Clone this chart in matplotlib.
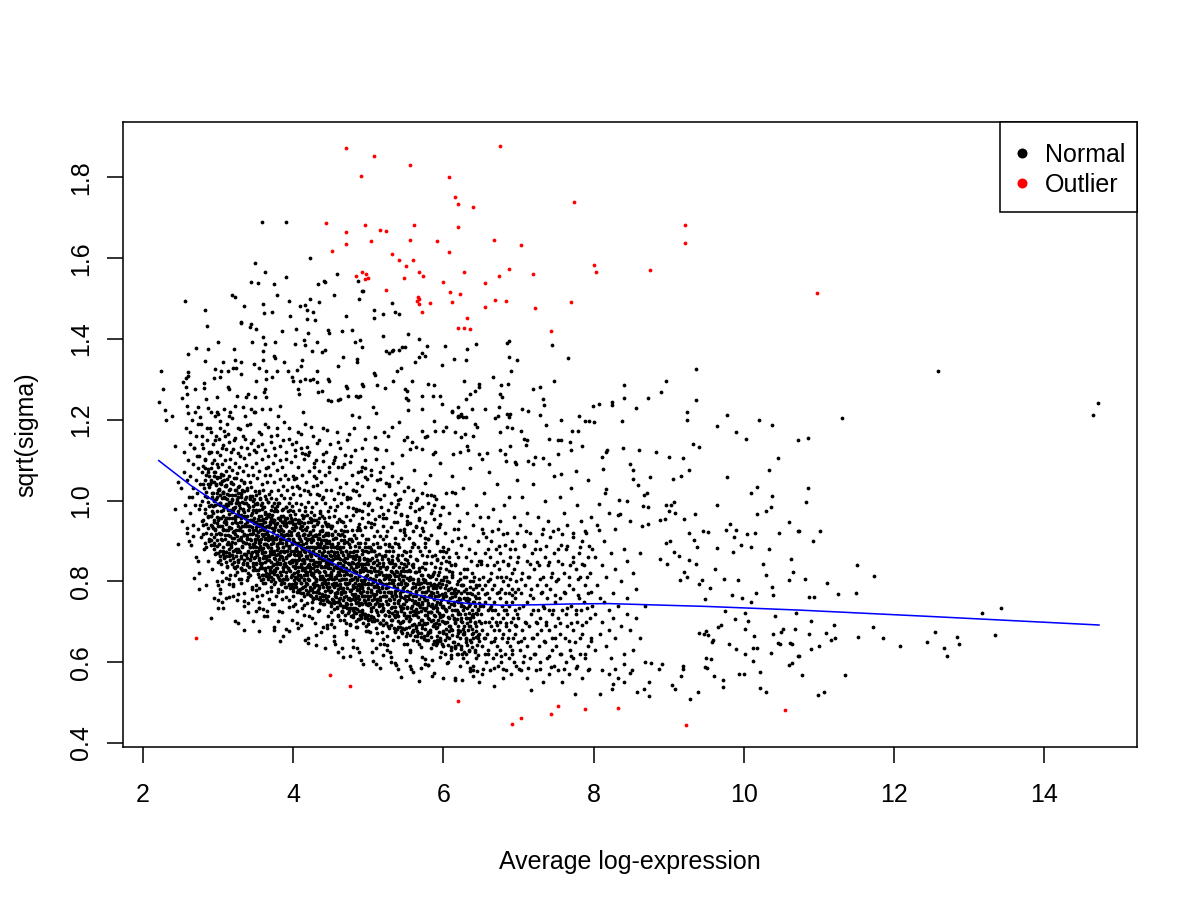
import matplotlib
matplotlib.use("Agg")
import matplotlib.pyplot as plt
from matplotlib.lines import Line2D
from matplotlib.patches import Rectangle

plt.rcParams['font.family'] = ['Liberation Sans', 'DejaVu Sans']

# outlier genes (red)
out_x = [4.70, 6.75, 5.07, 5.56, 4.90, 6.07, 6.16, 6.20, 6.40, 4.44, 4.70, 4.96, 5.15, 5.24, 5.61, 6.20,
         4.70, 5.03, 5.56, 5.92, 6.68, 7.04, 4.52, 5.32, 6.08, 5.41, 5.59, 5.50, 4.91, 4.84, 4.97, 5.00,
         4.95, 5.47, 5.68, 5.73, 6.28, 6.88, 6.74, 7.19, 5.99, 6.56, 5.24, 6.09, 6.22, 5.66, 5.68, 5.65,
         5.68, 5.82, 6.11, 6.55, 6.69, 6.84, 7.22, 5.72, 6.31, 6.20, 6.27, 6.36, 7.43,
         7.74, 9.22, 9.22, 8.01, 8.03, 8.75, 7.70, 10.98,
         2.70, 4.49, 4.76, 6.20, 6.91, 7.03, 7.43, 7.53, 7.88, 8.33, 9.23, 10.55]
out_y = [1.874, 1.877, 1.852, 1.832, 1.803, 1.800, 1.752, 1.735, 1.726, 1.687, 1.666, 1.683, 1.671, 1.668, 1.681, 1.678,
         1.635, 1.642, 1.644, 1.642, 1.646, 1.633, 1.619, 1.610, 1.616, 1.595, 1.596, 1.581, 1.565, 1.557, 1.561, 1.552,
         1.548, 1.552, 1.566, 1.557, 1.566, 1.574, 1.557, 1.562, 1.540, 1.539, 1.521, 1.517, 1.512, 1.505, 1.498, 1.495,
         1.487, 1.490, 1.492, 1.479, 1.497, 1.495, 1.476, 1.467, 1.452, 1.428, 1.428, 1.425, 1.420,
         1.740, 1.681, 1.638, 1.584, 1.566, 1.570, 1.492, 1.514,
         0.661, 0.569, 0.541, 0.504, 0.447, 0.462, 0.472, 0.492, 0.484, 0.487, 0.445, 0.482]

# lowess trend (blue)
trend_x = [2.21, 2.64, 3.00, 3.40, 3.80, 4.24, 4.69, 5.13, 5.44, 5.89, 6.33, 6.78, 7.22, 7.67, 8.20, 9.50, 10.73, 12.50, 14.73]
trend_y = [1.099, 1.037, 0.992, 0.950, 0.913, 0.872, 0.830, 0.795, 0.777, 0.756, 0.745, 0.741, 0.742, 0.744, 0.745, 0.738, 0.729, 0.713, 0.692]

# sparse upper cloud, one pair per gene
top_pts = [(2.56,1.495),(2.82,1.472),(3.18,1.510),(3.22,1.504),(3.34,1.481),(3.44,1.541),(3.53,1.538),(3.75,1.537),
    (3.78,1.508),(3.60,1.486),(3.61,1.464),(3.72,1.468),(3.31,1.443),(3.30,1.439),(3.44,1.437),(3.43,1.429),(2.85,1.431),
    (3.50,1.424),(3.60,1.406),(3.63,1.388),(3.76,1.393),(3.45,1.393),(3.00,1.393),(2.70,1.378),(2.87,1.375),(3.21,1.376),
    (3.60,1.370),(2.60,1.362),(2.82,1.346),(3.07,1.343),(3.22,1.348),(3.31,1.343),(3.48,1.339),(3.60,1.348),(3.74,1.357),
    (3.76,1.353),(3.88,1.343),(2.24,1.322),(2.60,1.319),(2.96,1.326),(3.04,1.322),(3.13,1.321),(3.20,1.328),(3.24,1.329),
    (3.31,1.314),(3.55,1.328),(3.64,1.322),(3.78,1.320),(3.72,1.306),(2.53,1.293),(2.57,1.303),(2.60,1.308),(2.81,1.292),
    (2.95,1.304),(3.03,1.305),(2.26,1.276),(2.21,1.244),(2.29,1.224),(2.39,1.210),(2.31,1.200),(2.57,1.281),(2.69,1.277),
    (2.81,1.279),(2.52,1.253),(2.58,1.264),(2.84,1.252),(2.98,1.256),(3.14,1.276),(3.13,1.282),(3.25,1.260),(3.37,1.256),
    (3.40,1.264),(3.49,1.256),(3.62,1.276),(3.61,1.268),(3.64,1.256),(3.51,1.297),(3.64,1.300),(2.58,1.234),(2.60,1.217),
    (2.73,1.231),(2.76,1.208),(2.86,1.229),(2.91,1.219),(3.00,1.215),(3.08,1.227),(3.16,1.220),(3.22,1.233),(3.33,1.231),
    (3.36,1.210),(3.44,1.227),(3.49,1.220),(3.58,1.227),(3.69,1.227),(3.82,1.235),
    (3.96,1.458),(3.94,1.495),(4.09,1.482),(4.16,1.485),(4.22,1.500),(4.33,1.537),(4.34,1.492),(4.42,1.541),(4.19,1.471),
    (4.26,1.467),(4.19,1.449),(4.29,1.447),(4.20,1.416),(4.46,1.423),(4.48,1.414),(4.04,1.425),(3.85,1.419),(4.54,1.509),
    (4.86,1.543),(4.88,1.500),(4.93,1.519),(4.71,1.457),(5.07,1.453),(5.07,1.471),(5.20,1.461),(5.36,1.467),(5.41,1.462),
    (5.31,1.489),(4.78,1.423),(4.65,1.421),(4.14,1.398),(4.03,1.388),(4.16,1.384),(4.32,1.393),(4.38,1.369),(4.42,1.374),
    (4.25,1.370),(4.82,1.393),(4.89,1.398),(4.92,1.381),(5.19,1.408),(5.53,1.413),(5.67,1.400),(5.78,1.382),(5.49,1.380),
    (5.24,1.370),(5.28,1.366),(5.33,1.373),(5.72,1.366),(6.02,1.382),(6.32,1.376),(6.43,1.388),(6.87,1.395),(6.85,1.391),
    (7.45,1.386),(7.66,1.352),(6.98,1.348),(6.87,1.356),(6.30,1.348),(6.14,1.350),(5.98,1.335),(6.90,1.322),(6.66,1.306),
    (6.28,1.295),(6.48,1.289),(6.77,1.287),(6.86,1.289),(7.20,1.277),(7.29,1.281),(7.47,1.295),(7.32,1.252),(7.34,1.237),
    (7.05,1.226),(7.13,1.221),(7.28,1.212),(7.36,1.188),(7.56,1.200),(7.80,1.210),(7.88,1.198),(7.94,1.198),(8.00,1.194),
    (7.99,1.233),(7.71,1.173),(7.79,1.172),(7.56,1.150),(7.68,1.144),(7.84,1.134),(7.40,1.153),(7.53,1.149),(7.12,1.150),
    (7.10,1.138),(7.07,1.153),(6.89,1.134),(6.76,1.169),(6.85,1.182),(6.92,1.180),(6.87,1.206),(6.85,1.215),(6.73,1.210),
    (6.74,1.231),(6.56,1.227),(6.38,1.227),(6.20,1.231),(6.24,1.215),(6.12,1.221),(6.36,1.264),(6.30,1.252),(6.42,1.272),
    (6.48,1.282),(6.78,1.256),(6.76,1.264),(6.42,1.190),(6.45,1.183),(6.69,1.204),(6.89,1.215),(7.04,1.173),(7.22,1.107),
    (7.32,1.106),(7.40,1.091),(7.52,1.115),(7.70,1.124),(7.77,1.074),(7.56,1.066),(7.13,1.099),(7.20,1.091),(6.97,1.091),
    (6.95,1.095),(6.84,1.099),(6.82,1.115),(6.76,1.124),(6.58,1.118),(6.47,1.115),(6.51,1.103),(6.31,1.134),(6.33,1.125),
    (6.22,1.120),(6.13,1.115),(5.86,1.115),(5.89,1.120),(6.15,1.169),(6.24,1.157),(6.29,1.165),(6.40,1.161),(6.19,1.208),
    (6.22,1.210),(6.30,1.206),(6.00,1.173),(6.03,1.183),(5.87,1.198),(5.89,1.173),(5.71,1.173),(5.76,1.157),(5.78,1.161),
    (5.64,1.132),(5.71,1.128),(5.55,1.128),(5.47,1.149),(5.58,1.144),(5.51,1.157),(5.41,1.194),(5.31,1.182),(5.26,1.161),
    (5.21,1.169),(5.09,1.157),(5.11,1.128),(5.09,1.129),(5.00,1.182),(5.10,1.218),(5.06,1.231),(4.87,1.208),(4.78,1.213),
    (4.84,1.260),(4.86,1.256),(4.89,1.260),(4.93,1.283),(4.92,1.289),(4.73,1.260),(4.70,1.283),(4.72,1.279),(4.62,1.252),
    (4.60,1.248),(4.51,1.246),(4.47,1.248),(4.33,1.268),(4.38,1.272),(4.32,1.293),(4.27,1.300),(4.22,1.299),(4.16,1.300),
    (4.09,1.296),(4.00,1.297),(4.07,1.276),(4.08,1.264),(3.98,1.307),(3.93,1.322),(4.05,1.324),(4.10,1.334),(4.12,1.347),
    (4.32,1.322),(4.46,1.300),(4.48,1.297),(4.60,1.334),(4.67,1.355),(4.85,1.344),(4.85,1.350),(5.07,1.315),(5.09,1.312),
    (5.12,1.287),(5.22,1.279),(5.33,1.297),(5.38,1.322),(5.44,1.329),(5.49,1.276),(5.51,1.272),(5.50,1.254),(5.53,1.248),
    (5.53,1.224),(5.58,1.297),(5.72,1.227),(5.72,1.260),(5.80,1.289),(5.87,1.285),(5.86,1.260),(5.96,1.258),(6.11,1.219),
    (6.19,1.209),(6.26,1.206),(5.98,1.239),(5.62,1.343),(5.67,1.355),(5.76,1.357),(5.41,1.372),(5.45,1.380),(5.31,1.370),
    (3.59,1.690),(3.90,1.689),(4.22,1.601),(3.49,1.588),(3.62,1.567),(4.59,1.562),(3.91,1.553),(4.41,1.543),(4.92,1.520)]

# band just above the dense core and the lower-left edge
upper_pts = [(2.62,1.17),(2.68,1.13),(2.73,1.19),(2.79,1.14),(2.85,1.18),(2.91,1.12),(2.96,1.15),(3.02,1.18),(3.05,1.13),
    (3.09,1.16),(3.12,1.19),(3.17,1.12),(3.21,1.15),(3.26,1.18),(3.29,1.11),(3.33,1.16),(3.38,1.13),(3.42,1.19),(3.46,1.15),
    (3.51,1.12),(3.55,1.17),(3.58,1.14),(3.62,1.19),(3.67,1.11),(3.71,1.16),(3.74,1.13),(3.78,1.18),(3.83,1.10),(3.86,1.15),
    (3.90,1.12),(3.94,1.18),(3.98,1.14),(4.03,1.11),(4.07,1.17),(4.11,1.13),(4.16,1.19),(4.21,1.12),(4.26,1.16),(4.31,1.10),
    (4.35,1.15),(4.40,1.18),(4.44,1.12),(4.49,1.14),(4.54,1.10),(4.58,1.17),(4.63,1.13),(4.68,1.09),(4.72,1.15),(4.77,1.11),
    (4.81,1.18),(4.86,1.07),(4.91,1.13),(4.96,1.10),(3.15,1.21),(3.48,1.22),(3.80,1.21),(4.13,1.22),(2.99,1.22),(3.64,1.08),
    (4.28,1.06),(2.43,1.136),(2.47,1.047),(2.58,0.932),(2.43,0.979),(2.47,0.892),(2.67,0.913),(2.73,0.851),(2.68,0.809),
    (3.00,0.735),(3.22,0.702),(3.27,0.696),(3.35,0.680),(3.54,0.677),(3.82,0.652),(3.27,0.768),(3.02,0.772)]

# right tail, x > 8
tail_pts = [(9.36,1.326),(8.97,1.297),(8.40,1.286),(8.90,1.270),(8.07,1.238),(8.25,1.245),(8.24,1.236),(8.41,1.253),
    (8.72,1.254),(9.36,1.248),(8.57,1.228),(9.25,1.219),(8.38,1.198),(9.25,1.200),(9.78,1.212),(10.20,1.200),(10.38,1.187),
    (9.64,1.185),(9.90,1.170),(10.03,1.152),(10.72,1.149),(9.32,1.140),(9.40,1.133),(8.18,1.126),(8.16,1.120),(8.39,1.130),
    (8.60,1.125),(8.83,1.120),(9.00,1.108),(9.19,1.105),(8.11,1.107),(8.13,1.078),(8.48,1.091),(8.52,1.076),(10.45,1.105),
    (10.34,1.076),(9.27,1.076),(9.16,1.061),(9.06,1.053),(9.78,1.058),(8.75,1.058),(8.52,1.054),(8.59,1.039),(10.18,1.033),
    (8.16,1.029),(8.15,1.018),(8.71,1.020),(8.67,1.014),(10.09,1.018),(10.37,1.011),(8.34,1.002),(8.45,0.999),(8.07,0.992),
    (8.66,0.987),(8.72,0.985),(8.97,0.990),(9.03,0.988),(9.07,0.996),(9.64,0.990),(10.36,0.984),(10.30,0.974),(10.18,0.967),
    (9.00,0.973),(9.09,0.970),(9.35,0.967),(8.32,0.964),(8.35,0.968),(8.88,0.952),(8.95,0.954),(9.20,0.955),(10.60,0.946),
    (8.65,0.938),(8.73,0.941),(9.82,0.943),(9.89,0.928),(9.76,0.926),(9.27,0.920),(9.46,0.925),(9.52,0.923),(10.04,0.918),
    (10.15,0.921),(10.47,0.921),(10.72,0.925),(8.07,0.927),(9.87,0.911),(9.96,0.891),(9.34,0.903),(8.96,0.894),(9.02,0.901),
    (9.38,0.886),(9.65,0.883),(9.86,0.873),(10.09,0.884),(10.34,0.880),(9.14,0.864),(9.07,0.873),(9.27,0.854),(9.37,0.842),
    (8.88,0.855),(8.98,0.842),(10.63,0.855),(10.25,0.843),(10.66,0.823),(10.29,0.815),(10.60,0.804),(9.62,0.830),(9.74,0.805),
    (9.92,0.804),(9.20,0.823),(9.24,0.811),(9.15,0.803),(9.45,0.804),(9.55,0.784),(9.40,0.793),(9.49,0.756),(9.84,0.767),
    (9.98,0.759),(10.10,0.750),(10.16,0.771),(10.38,0.786),(10.39,0.766),(9.75,0.726),(9.88,0.708),(10.01,0.722),(10.05,0.702),
    (10.41,0.714),(10.69,0.721),(9.66,0.688),(9.70,0.693),(10.01,0.681),(10.13,0.664),(10.39,0.670),(10.49,0.675),(10.52,0.683),
    (10.68,0.681),(10.45,0.648),(10.48,0.645),(10.62,0.648),(10.64,0.645),(9.80,0.645),(9.90,0.633),(10.01,0.621),(10.12,0.635),
    (10.18,0.636),(10.36,0.623),(10.72,0.615),(9.59,0.656),(9.58,0.651),(9.47,0.670),(9.50,0.676),(9.53,0.668),(9.41,0.672),
    (9.50,0.611),(9.56,0.608),(9.48,0.588),(9.51,0.585),(9.60,0.566),(9.73,0.555),(9.73,0.539),(9.94,0.570),(10.00,0.570),
    (10.12,0.602),(10.21,0.575),(10.29,0.525),(10.21,0.537),(10.60,0.593),(10.64,0.598),(9.29,0.508),(9.39,0.527),(9.04,0.544),
    (9.09,0.533),(9.19,0.591),(9.19,0.583),(9.16,0.567),(8.91,0.595),(8.87,0.583),(8.76,0.598),(8.67,0.533),(8.58,0.527),
    (8.74,0.550),(8.74,0.516),(8.48,0.574),(8.51,0.580),(8.40,0.596),(8.29,0.584),(8.20,0.571),(8.26,0.547),(8.40,0.551),
    (8.08,0.521),(8.24,0.533),
    (12.59,1.321),(14.72,1.242),(14.65,1.212),(11.31,1.204),(10.86,1.155),(10.85,1.030),(10.83,0.997),(10.73,0.925),
    (11.01,0.925),(10.92,0.900),(11.51,0.840),(11.74,0.813),(10.82,0.807),(11.11,0.796),(10.87,0.761),(10.93,0.761),
    (11.25,0.768),(11.50,0.771),(13.17,0.721),(13.43,0.733),(10.89,0.702),(11.20,0.692),(10.87,0.669),(11.10,0.672),
    (11.21,0.661),(11.16,0.655),(11.52,0.663),(11.72,0.686),(11.86,0.659),(12.08,0.640),(12.44,0.651),(12.54,0.675),
    (12.67,0.636),(12.71,0.615),(12.84,0.662),(12.87,0.645),(13.34,0.667),(10.90,0.633),(11.00,0.640),(10.73,0.615),
    (10.78,0.569),(11.35,0.569),(11.07,0.526),(10.99,0.519)]

# dense core, each row is [x, y, y, ...]
band_a = [[2.51,1.03],[2.52,0.95],[2.54,1.12],[2.55,1.07],[2.56,0.99],[2.57,1.18],[2.58,1.05],[2.59,0.92],[2.60,1.10],
    [2.61,1.01,0.90],[2.62,0.97,1.14],[2.63,1.06],[2.64,0.89],[2.65,1.20,1.01],[2.66,1.03],[2.67,0.94,1.09],[2.68,1.13],
    [2.69,0.99,1.22],[2.70,1.05,0.86],[2.71,1.16],[2.72,1.02,1.11],[2.73,0.93,1.08],[2.74,0.98,0.82],[2.75,1.11,0.78],
    [2.76,1.04,0.99],[2.77,0.91,1.19],[2.78,1.00,1.16],[2.79,1.07,0.95],[2.80,1.13,0.94],[2.81,0.88,1.03],[2.82,0.97,1.08],
    [2.83,1.10,1.05],[2.84,0.92,0.79],[2.85,1.15,1.01],[2.86,0.85,1.04],[2.87,1.07,0.96],[2.88,1.12,0.90,1.06],
    [2.89,1.04,1.18],[2.90,0.99,1.17],[2.91,0.94,1.08,0.71],[2.92,0.83,1.02],[2.93,1.14,0.97],[2.94,1.06,0.89,0.76],
    [2.95,1.10,1.00,0.91],[2.96,0.93,1.21],[2.97,1.04,0.87,1.16],[2.98,1.09,0.96],[2.99,1.12,1.01,0.80]]
band_b = [[3.00,0.953,1.084,0.847],[3.01,1.026,0.892,1.153],[3.02,0.937,1.058,0.781,1.114],[3.03,0.994,0.863,1.196],
    [3.04,1.042,0.917,0.973],[3.05,0.824,1.091,1.006],[3.06,0.962,1.137,0.885,0.734],[3.07,1.063,0.926,1.018],
    [3.08,0.857,0.983,1.172],[3.09,1.035,0.904,1.101],[3.10,0.946,0.808,1.074,0.992],[3.11,1.127,0.873,0.958],
    [3.12,1.004,0.836,1.053],[3.13,0.915,1.164,0.977],[3.14,1.082,0.893,0.762],[3.15,0.967,1.025,0.864,1.146],
    [3.16,0.932,1.103,0.815],[3.17,1.047,0.886,0.994],[3.18,0.958,1.204,0.842],[3.19,1.013,0.907,1.076],
    [3.20,0.874,0.976,1.128,0.793],[3.21,1.056,0.924,0.835],[3.22,0.983,1.092,0.896],[3.23,0.946,0.817,1.155],
    [3.24,1.027,0.864,0.962],[3.25,0.913,1.068,0.754,1.003],[3.26,0.975,0.852,1.117],[3.27,1.034,0.936,0.881],
    [3.28,0.806,0.994,1.083],[3.29,0.947,1.176,0.873],[3.30,1.016,0.903,0.834,1.052],[3.31,0.964,1.132,0.796],
    [3.32,0.885,1.027,0.924],[3.33,1.073,0.846,0.978],[3.34,0.937,0.772,1.106],[3.35,0.994,0.868,1.043,0.915],
    [3.36,1.153,0.827,0.956],[3.37,0.894,1.008,1.087],[3.38,0.946,0.803,0.857],[3.39,1.032,0.914,1.187],
    [3.40,0.873,0.976,0.724,1.064],[3.41,0.927,1.115,0.836],[3.42,1.005,0.884,0.953],[3.43,0.817,1.046,0.906],
    [3.44,0.964,1.143,0.862],[3.45,0.935,0.786,1.012,1.083],[3.46,0.893,0.987,0.845],[3.47,1.064,0.926,0.703],
    [3.48,0.957,0.834,1.125],[3.49,0.904,1.023,0.876]]
band_c = [[3.50,0.884,1.013,0.792,0.946],[3.51,0.927,0.843,1.094,0.975],[3.52,0.866,0.992,0.764,1.057],
    [3.53,0.913,1.136,0.827,0.954],[3.54,0.895,0.783,1.024,0.936],[3.55,0.976,0.857,1.073,0.735],
    [3.56,0.834,0.942,1.006,0.887],[3.57,0.906,1.164,0.803,0.963],[3.58,0.874,0.995,0.767,1.042],
    [3.59,0.938,0.846,1.103,0.917],[3.60,0.816,0.954,0.883,1.027],[3.61,0.985,0.862,0.714,0.926],
    [3.62,0.893,1.064,0.796,0.968],[3.63,0.847,0.935,1.126,0.872],[3.64,0.956,0.813,1.004,0.907],
    [3.65,0.774,0.923,1.045,0.864],[3.66,0.997,0.886,0.835,1.183],[3.67,0.914,0.806,0.963,1.082],
    [3.68,0.853,1.017,0.756,0.934],[3.69,0.946,0.875,1.063,0.823],[3.70,0.904,0.787,0.976,1.145],
    [3.71,0.836,0.957,0.882,1.024],[3.72,0.964,0.745,0.913,0.867],[3.73,0.805,1.093,0.946,0.894],
    [3.74,0.927,0.843,0.995,0.686],[3.75,0.876,1.046,0.794,0.953],[3.76,0.934,0.826,1.112,0.907],
    [3.77,0.865,0.976,0.763,1.004],[3.78,0.986,0.893,0.847,1.075],[3.79,0.817,0.945,0.914,1.163],
    [3.80,0.883,0.774,1.026,0.957],[3.81,0.924,0.856,0.993,0.726],[3.82,0.846,1.054,0.905,0.803],
    [3.83,0.957,0.872,1.134,0.936],[3.84,0.793,0.917,0.864,1.015],[3.85,0.894,0.976,0.757,1.083],
    [3.86,0.834,0.946,1.037,0.885],[3.87,0.963,0.807,0.924,0.664],[3.88,0.875,1.006,0.843,1.194],
    [3.89,0.916,0.785,0.953,1.064],[3.90,0.857,0.984,0.896,0.814],[3.91,0.937,1.103,0.762,0.945],
    [3.92,0.806,0.903,0.876,1.027],[3.93,0.974,0.834,1.053,0.916],[3.94,0.865,0.947,0.736,0.993],
    [3.95,0.904,1.152,0.827,0.884],[3.96,0.846,0.965,1.006,0.783],[3.97,0.923,0.874,0.957,1.096],
    [3.98,0.794,1.034,0.896,0.853],[3.99,0.947,0.815,0.986,0.705]]
band_d = [[4.00,0.853,0.974,0.765,0.906],[4.01,0.804,0.927,1.053,0.874],[4.02,0.896,0.743,0.955,0.837],
    [4.03,0.934,0.865,1.124,0.796],[4.04,0.786,0.883,0.994,0.846],[4.05,0.917,0.824,0.727,1.036],
    [4.06,0.866,0.953,0.805,0.684],[4.07,0.835,1.083,0.894,0.947],[4.08,0.976,0.774,0.856,0.913],
    [4.09,0.817,0.904,1.015,0.872],[4.10,0.884,0.753,0.936,1.164],[4.11,0.843,0.992,0.796,0.865],
    [4.12,0.926,0.827,1.064,0.734],[4.13,0.785,0.893,0.957,0.856],[4.14,0.874,1.026,0.803,0.917],
    [4.15,0.945,0.764,0.846,1.103],[4.16,0.826,0.907,0.973,0.656],[4.17,0.894,0.795,1.047,0.863],
    [4.18,0.857,0.934,0.746,0.815],[4.19,0.964,0.836,0.884,1.132],[4.20,0.807,0.915,0.773,0.996],
    [4.21,0.876,1.074,0.843,0.714],[4.22,0.923,0.786,0.957,0.834],[4.23,0.835,0.884,1.016,0.906],
    [4.24,0.764,0.946,0.863,1.183],[4.25,0.907,0.816,0.984,0.735],[4.26,0.854,1.037,0.794,0.926],
    [4.27,0.936,0.875,0.757,0.843],[4.28,0.796,0.964,1.093,0.884],[4.29,0.883,0.826,0.915,0.697],
    [4.30,0.847,0.993,0.774,1.056],[4.31,0.914,0.806,0.865,0.953],[4.32,0.773,0.896,1.143,0.837],
    [4.33,0.865,0.947,0.726,0.904],[4.34,0.823,1.015,0.876,0.784],[4.35,0.956,0.843,0.917,1.074],
    [4.36,0.805,0.746,0.884,0.973],[4.37,0.894,1.046,0.835,0.675],[4.38,0.856,0.924,0.793,1.004],
    [4.39,0.937,0.814,0.963,0.865],[4.40,0.786,0.883,1.115,0.743],[4.41,0.874,0.956,0.826,0.903],
    [4.42,0.835,0.767,0.994,1.063],[4.43,0.916,0.864,0.804,0.636],[4.44,0.793,1.027,0.895,0.846],
    [4.45,0.884,0.937,0.753,1.174],[4.46,0.847,0.806,0.975,0.873],[4.47,0.943,0.714,0.856,0.916],
    [4.48,0.815,0.894,1.083,0.785],[4.49,0.866,0.984,0.834,0.937]]
band_e = [[4.50,0.814,0.936,0.723,0.875],[4.51,0.776,0.884,1.025,0.846],[4.52,0.853,0.704,0.917,0.794],
    [4.53,0.906,0.827,1.093,0.754],[4.54,0.746,0.865,0.963,0.806],[4.55,0.884,0.785,0.687,1.004],
    [4.56,0.836,0.924,0.763,0.645],[4.57,0.795,1.053,0.864,0.907],[4.58,0.946,0.734,0.815,0.873],
    [4.59,0.774,0.857,0.986,0.836],[4.60,0.845,0.716,0.894,1.146],[4.61,0.803,0.954,0.756,0.824],
    [4.62,0.886,0.787,1.034,0.705],[4.63,0.743,0.856,0.914,0.817],[4.64,0.836,0.995,0.774,0.873],
    [4.65,0.917,0.726,0.806,1.083],[4.66,0.784,0.865,0.946,0.614],[4.67,0.854,0.753,1.016,0.826],
    [4.68,0.815,0.896,0.704,0.773],[4.69,0.936,0.796,0.847,1.114],[4.70,0.764,0.875,0.736,0.963],
    [4.71,0.834,1.043,0.806,0.676],[4.72,0.897,0.745,0.924,0.793],[4.73,0.796,0.846,0.984,0.865],
    [4.74,0.726,0.904,0.827,1.165],[4.75,0.864,0.776,0.953,0.694],[4.76,0.817,1.006,0.754,0.886],
    [4.77,0.905,0.836,0.714,0.803],[4.78,0.757,0.927,1.064,0.845],[4.79,0.846,0.784,0.873,0.656],
    [4.80,0.806,0.964,0.735,1.026],[4.81,0.875,0.763,0.824,0.916],[4.82,0.734,0.856,1.124,0.795],
    [4.83,0.824,0.907,0.686,0.864],[4.84,0.785,0.974,0.836,0.746],[4.85,0.926,0.804,0.875,1.043],
    [4.86,0.763,0.706,0.845,0.934],[4.87,0.856,1.013,0.794,0.625],[4.88,0.814,0.886,0.757,0.976],
    [4.89,0.895,0.773,0.926,0.824],[4.90,0.746,0.843,1.074,0.715],[4.91,0.836,0.914,0.785,0.867],
    [4.92,0.794,0.724,0.957,1.035],[4.93,0.875,0.826,0.763,0.596],[4.94,0.754,0.993,0.857,0.804],
    [4.95,0.843,0.896,0.716,1.153],[4.96,0.807,0.764,0.935,0.834],[4.97,0.904,0.676,0.813,0.875],
    [4.98,0.773,0.856,1.054,0.745],[4.99,0.825,0.946,0.793,0.884]]
band_f = [[5.00,0.784,0.906,0.695,0.843],[5.01,0.746,0.854,0.993,0.805],[5.02,0.826,0.674,0.884,0.763],
    [5.03,0.875,0.793,1.064,0.726],[5.04,0.714,0.836,0.935,0.774],[5.05,0.857,0.754,0.656,0.976],
    [5.06,0.805,0.893,0.736,0.604],[5.07,0.764,1.025,0.834,0.876],[5.08,0.913,0.706,0.785,0.847],
    [5.09,0.743,0.826,0.954,0.804],[5.10,0.815,0.684,0.865,1.103],[5.11,0.776,0.924,0.725,0.793],
    [5.12,0.854,0.757,1.006,0.673],[5.13,0.716,0.825,0.884,0.786],[5.14,0.804,0.963,0.745,0.846],
    [5.15,0.885,0.696,0.774,1.054],[5.16,0.753,0.836,0.913,0.586],[5.17,0.824,0.726,0.984,0.795],
    [5.18,0.786,0.864,0.675,0.743],[5.19,0.906,0.764,0.815,1.083],[5.20,0.735,0.846,0.704,0.937],
    [5.21,0.806,1.014,0.773,0.645],[5.22,0.864,0.716,0.893,0.765],[5.23,0.764,0.817,0.956,0.834],
    [5.24,0.696,0.875,0.794,1.124],[5.25,0.836,0.745,0.924,0.664],[5.26,0.785,0.976,0.726,0.856],
    [5.27,0.874,0.806,0.685,0.773],[5.28,0.724,0.893,1.035,0.816],[5.29,0.814,0.753,0.846,0.626],
    [5.30,0.774,0.935,0.704,0.994],[5.31,0.846,0.736,0.795,0.884],[5.32,0.705,0.823,1.094,0.764],
    [5.33,0.796,0.874,0.654,0.836],[5.34,0.757,0.946,0.804,0.716],[5.35,0.894,0.775,0.843,1.016],
    [5.36,0.736,0.675,0.814,0.907],[5.37,0.826,0.984,0.763,0.594],[5.38,0.784,0.857,0.724,0.946],
    [5.39,0.865,0.746,0.893,0.794],[5.40,0.715,0.813,1.045,0.686],[5.41,0.806,0.884,0.754,0.835],
    [5.42,0.764,0.697,0.926,1.004],[5.43,0.845,0.793,0.736,0.564],[5.44,0.726,0.964,0.825,0.775],
    [5.45,0.813,0.866,0.684,1.113],[5.46,0.775,0.734,0.906,0.804],[5.47,0.874,0.646,0.785,0.843],
    [5.48,0.745,0.826,1.023,0.716],[5.49,0.796,0.914,0.763,0.856]]
band_g = [[5.50,0.754,0.873,0.664],[5.51,0.715,0.826,0.963],[5.52,0.794,0.646,0.853,0.734],[5.53,0.845,0.763,1.034],
    [5.54,0.686,0.804,0.907],[5.55,0.826,0.725,0.624,0.945],[5.56,0.774,0.864,0.706],[5.57,0.735,0.994,0.806,0.584],
    [5.58,0.884,0.675,0.753],[5.59,0.716,0.795,0.924,0.843],[5.60,0.785,0.654,0.836],[5.61,0.746,0.893,0.694,1.075],
    [5.62,0.824,0.726,0.974],[5.63,0.684,0.793,0.856,0.765],[5.64,0.776,0.934,0.716],[5.65,0.854,0.664,0.745,1.006],
    [5.66,0.724,0.805,0.884],[5.67,0.793,0.695,0.953,0.554],[5.68,0.756,0.834,0.645],[5.69,0.875,0.736,0.784,0.916],
    [5.70,0.704,0.815,0.673],[5.71,0.774,0.983,0.745,0.614],[5.72,0.836,0.684,0.865],[5.73,0.735,0.786,0.924,0.806],
    [5.74,0.664,0.845,0.764],[5.75,0.803,0.716,0.894,1.043],[5.76,0.754,0.946,0.695],[5.77,0.846,0.774,0.656,0.734],
    [5.78,0.696,0.864,1.014],[5.79,0.785,0.724,0.816,0.594],[5.80,0.746,0.904,0.675],[5.81,0.814,0.706,0.764,0.875],
    [5.82,0.674,0.796,1.063],[5.83,0.764,0.846,0.636,0.725],[5.84,0.724,0.915,0.774],[5.85,0.864,0.745,0.813,0.976],
    [5.86,0.705,0.646,0.784],[5.87,0.794,0.954,0.736,0.574],[5.88,0.756,0.824,0.694],[5.89,0.835,0.714,0.866,0.763],
    [5.90,0.686,0.784,1.005],[5.91,0.774,0.853,0.726,0.656],[5.92,0.735,0.664,0.894],[5.93,0.816,0.765,0.704,0.934],
    [5.94,0.694,0.935,0.796],[5.95,0.786,0.834,0.654,1.094],[5.96,0.745,0.716,0.875],[5.97,0.846,0.625,0.754,0.804],
    [5.98,0.714,0.794,0.984],[5.99,0.765,0.886,0.736,0.674]]
band_h = [[6.00,0.74,0.86,0.64],[6.01,0.70,0.81],[6.02,0.77,0.62,0.92],[6.03,0.83,0.73],[6.04,0.67,0.79,1.02],[6.05,0.80,0.70],
    [6.06,0.75,0.88,0.60],[6.07,0.71,0.97],[6.08,0.86,0.66,0.78],[6.09,0.69,0.76],[6.10,0.77,0.63,0.84],[6.11,0.73,0.90],
    [6.12,0.81,0.68,1.06],[6.13,0.65,0.77],[6.14,0.75,0.93,0.71],[6.15,0.84,0.64],[6.16,0.70,0.78,0.56],[6.17,0.77,0.87],
    [6.18,0.73,0.62,0.99],[6.19,0.86,0.72],[6.20,0.68,0.80,0.75],[6.21,0.76,0.95],[6.22,0.82,0.66,0.59],[6.23,0.71,0.79],
    [6.24,0.64,0.89,0.74],[6.25,0.79,0.70],[6.26,0.74,1.03,0.61],[6.27,0.69,0.83],[6.28,0.81,0.67,0.76],[6.29,0.72,0.91],
    [6.30,0.65,0.78,0.86],[6.31,0.76,0.60],[6.32,0.83,0.71,0.97],[6.33,0.68,0.75],[6.34,0.74,0.88,0.63],[6.35,0.80,0.69],
    [6.36,0.71,0.77,1.08],[6.37,0.85,0.65],[6.38,0.67,0.82,0.73],[6.39,0.78,0.58],[6.40,0.72,0.94,0.66],[6.41,0.81,0.75],
    [6.42,0.63,0.70,0.87],[6.43,0.76,0.99],[6.44,0.69,0.79,0.61],[6.45,0.84,0.72],[6.46,0.73,0.66,0.90],[6.47,0.79,0.55],
    [6.48,0.67,0.85,0.76],[6.49,0.74,0.96]]
band_i = [[6.50,0.72,0.85],[6.51,0.64,0.93],[6.52,0.78,0.68,0.57],[6.53,0.81,0.74],[6.54,0.66,1.02],[6.55,0.75,0.87,0.62],
    [6.56,0.70,0.79],[6.57,0.91,0.60],[6.58,0.77,0.67,0.84],[6.59,0.73,0.96],[6.60,0.63,0.80],[6.61,0.76,0.70,1.07],
    [6.62,0.86,0.58],[6.63,0.69,0.74],[6.64,0.82,0.65,0.90],[6.65,0.71,0.78],[6.66,0.61,0.98],[6.67,0.75,0.84,0.68],
    [6.68,0.79,0.54],[6.69,0.66,0.73],[6.70,0.88,0.70,0.62],[6.71,0.77,1.04],[6.72,0.64,0.81],[6.73,0.72,0.93,0.59],
    [6.74,0.83,0.68],[6.75,0.76,0.63],[6.76,0.70,0.87,0.95],[6.77,0.60,0.78],[6.78,0.74,0.66],[6.79,0.85,0.71,0.56],
    [6.80,0.67,0.80],[6.81,0.73,0.99],[6.82,0.62,0.77,0.89],[6.83,0.81,0.69],[6.84,0.75,0.58],[6.85,0.65,0.92,0.72],
    [6.86,0.79,0.84],[6.87,0.68,0.61],[6.88,0.74,1.01,0.77],[6.89,0.86,0.64],[6.90,0.70,0.57],[6.91,0.63,0.82,0.75],
    [6.92,0.78,0.90],[6.93,0.66,0.71],[6.94,0.83,0.60,0.96],[6.95,0.73,0.67],[6.96,0.76,0.88],[6.97,0.59,0.80,0.69],
    [6.98,0.72,1.05],[6.99,0.65,0.78]]
band_j = [[7.00,0.71,0.86],[7.02,0.63,0.94],[7.03,0.77,0.58],[7.05,0.82,0.68,1.01],[7.06,0.74,0.60],[7.08,0.89,0.66],
    [7.09,0.70,0.79],[7.11,0.56,0.85,0.97],[7.12,0.75,0.64],[7.14,0.81,0.69],[7.15,0.92,0.61],[7.17,0.72,0.78,0.53],
    [7.18,0.66,0.87],[7.20,0.76,1.04],[7.21,0.62,0.83],[7.23,0.70,0.90,0.58],[7.24,0.79,0.67],[7.26,0.73,0.96],
    [7.27,0.64,0.84],[7.29,0.88,0.71,0.60],[7.30,0.77,0.68],[7.32,0.55,0.93],[7.33,0.74,0.81],[7.35,0.65,1.00,0.86],
    [7.36,0.79,0.70],[7.38,0.61,0.76],[7.39,0.84,0.95],[7.41,0.68,0.57,0.73],[7.42,0.91,0.78],[7.44,0.63,0.82],
    [7.45,0.72,0.66],[7.47,0.87,0.59,1.06],[7.48,0.75,0.69]]
band_k = [[7.50,0.80,0.64],[7.52,0.71,0.93],[7.53,0.58,0.85],[7.55,0.76,0.67,1.01],[7.57,0.89,0.62],[7.58,0.73,0.55],
    [7.60,0.82,0.97],[7.62,0.66,0.77],[7.63,0.60,0.88,0.72],[7.65,0.94,0.69],[7.67,0.79,0.57],[7.68,0.63,0.84],
    [7.70,0.74,1.03],[7.72,0.86,0.68,0.61],[7.73,0.78,0.91],[7.75,0.65,0.52],[7.77,0.83,0.72],[7.78,0.70,0.99,0.59],
    [7.80,0.76,0.87],[7.82,0.62,0.81],[7.83,0.73,0.95],[7.85,0.67,0.56,0.90],[7.87,0.84,0.75],[7.88,0.61,0.79],
    [7.90,0.92,0.70],[7.92,0.77,0.64,1.05],[7.93,0.86,0.58],[7.95,0.71,0.82],[7.97,0.66,0.96],[7.98,0.74,0.88]]
band_l = [[8.02,0.72,0.86,0.63],[8.05,0.79,0.94],[8.08,0.67,0.76],[8.11,0.84,0.58,0.70],[8.14,0.75,0.90],[8.17,0.64,0.81],
    [8.20,0.73,0.68,0.97],[8.23,0.87,0.61],[8.26,0.77,0.71],[8.29,0.66,0.83,0.93],[8.33,0.74,0.56],[8.36,0.80,0.69],
    [8.40,0.62,0.88],[8.44,0.76,0.72,0.85],[8.48,0.68,0.95],[8.52,0.82,0.63],[8.57,0.71,0.78],[8.62,0.87,0.66],[8.68,0.74,0.60]]

# the darkest part of the cloud
fill_a = [[2.80,0.953,1.041,0.917,1.086],[2.82,1.012,0.896,0.978,1.104],[2.84,0.941,1.063,0.884,1.021],
    [2.86,0.997,0.932,1.078,0.963],[2.88,1.034,0.905,0.986,1.117],[2.90,0.918,1.052,0.961,0.889],
    [2.92,0.974,1.093,1.008,0.936],[2.94,1.046,0.881,0.953,1.002],[2.96,0.927,0.989,1.071,0.868],
    [2.98,1.019,0.944,0.902,1.058],[3.00,0.936,1.027,0.871,0.992],[3.02,0.988,0.853,1.043,0.917],
    [3.04,0.904,1.066,0.958,0.842],[3.06,1.021,0.929,0.876,0.987],[3.08,0.947,1.009,0.861,1.052],
    [3.10,0.872,0.983,0.926,1.038],[3.12,1.017,0.893,0.957,0.838],[3.14,0.934,1.061,0.881,0.996],
    [3.16,0.976,0.852,1.029,0.913],[3.18,0.897,1.003,0.944,0.866],[3.20,1.042,0.923,0.859,0.981],
    [3.22,0.955,0.878,1.014,0.832],[3.24,0.881,0.994,0.928,1.057],[3.26,1.009,0.847,0.962,0.903],
    [3.28,0.927,1.036,0.874,0.988],[3.30,0.862,0.958,1.018,0.911],[3.32,0.996,0.887,0.936,0.829],
    [3.34,0.918,1.047,0.853,0.972],[3.36,0.869,0.941,1.003,0.894],[3.38,1.026,0.908,0.846,0.963],
    [3.40,0.937,0.821,0.989,0.876],[3.42,0.884,1.012,0.917,0.852],[3.44,0.953,0.868,1.034,0.902],
    [3.46,0.839,0.976,0.921,0.998],[3.48,1.003,0.891,0.857,0.944],[3.50,0.916,0.827,0.972,0.873],
    [3.52,0.867,0.993,0.904,0.941],[3.54,0.951,0.812,0.883,1.018],[3.56,0.898,1.004,0.846,0.927],
    [3.58,0.834,0.942,0.979,0.871],[3.60,0.983,0.859,0.913,0.806],[3.62,0.906,0.829,1.011,0.948],
    [3.64,0.857,0.968,0.893,0.821],[3.66,0.937,0.884,0.814,0.996],[3.68,0.819,0.911,0.966,0.862],
    [3.70,0.958,0.847,0.893,1.007],[3.72,0.876,0.987,0.822,0.932],[3.74,0.829,0.904,0.953,0.868],
    [3.76,0.941,0.856,0.798,0.982],[3.78,0.887,0.974,0.834,0.913],[3.80,0.811,0.926,0.868,0.993],
    [3.82,0.952,0.843,0.897,0.803],[3.84,0.874,0.961,0.817,0.929],[3.86,0.826,0.905,0.978,0.852],
    [3.88,0.939,0.872,0.796,0.914],[3.90,0.861,0.983,0.838,0.902],[3.92,0.807,0.917,0.874,0.956],
    [3.94,0.924,0.849,0.791,0.887],[3.96,0.868,0.946,0.826,0.977],[3.98,0.817,0.893,0.952,0.851],
    [4.00,0.902,0.838,0.784,0.941],[4.02,0.853,0.967,0.812,0.896],[4.04,0.796,0.879,0.934,0.847],
    [4.06,0.921,0.826,0.868,0.779],[4.08,0.864,0.953,0.803,0.908],[4.10,0.812,0.891,0.947,0.836],
    [4.12,0.937,0.852,0.783,0.879],[4.14,0.847,0.918,0.817,0.961],[4.16,0.788,0.873,0.929,0.834],
    [4.18,0.906,0.823,0.768,0.857],[4.20,0.841,0.948,0.806,0.886],[4.22,0.779,0.867,0.923,0.825],
    [4.24,0.897,0.819,0.852,0.954],[4.26,0.832,0.913,0.774,0.871],[4.28,0.786,0.846,0.938,0.812],
    [4.30,0.914,0.803,0.867,0.759],[4.32,0.828,0.942,0.791,0.884],[4.34,0.771,0.857,0.907,0.823],
    [4.36,0.893,0.814,0.762,0.849],[4.38,0.836,0.926,0.797,0.871],[4.40,0.764,0.852,0.913,0.808],
    [4.42,0.884,0.796,0.838,0.946],[4.44,0.817,0.902,0.758,0.863],[4.46,0.779,0.841,0.921,0.796],
    [4.48,0.901,0.787,0.853,0.748],[4.50,0.819,0.931,0.776,0.864],[4.52,0.756,0.843,0.893,0.805],
    [4.54,0.873,0.797,0.749,0.836],[4.56,0.811,0.908,0.771,0.858],[4.58,0.748,0.834,0.887,0.792],
    [4.60,0.866,0.781,0.824,0.917],[4.62,0.803,0.879,0.742,0.846],[4.64,0.768,0.827,0.903,0.783],
    [4.66,0.884,0.773,0.838,0.736],[4.68,0.806,0.912,0.761,0.851],[4.70,0.741,0.828,0.876,0.794],
    [4.72,0.857,0.784,0.733,0.819],[4.74,0.797,0.893,0.758,0.842],[4.76,0.733,0.816,0.872,0.778],
    [4.78,0.849,0.768,0.807,0.901],[4.80,0.788,0.864,0.729,0.831],[4.82,0.754,0.812,0.887,0.769],
    [4.84,0.866,0.759,0.823,0.721],[4.86,0.792,0.896,0.748,0.837],[4.88,0.727,0.813,0.861,0.781],
    [4.90,0.842,0.771,0.718,0.804],[4.92,0.783,0.878,0.744,0.828],[4.94,0.719,0.801,0.856,0.763],
    [4.96,0.834,0.752,0.793,0.884],[4.98,0.774,0.849,0.713,0.817]]
fill_b = [[5.00,0.741,0.797,0.872,0.756],[5.02,0.853,0.743,0.808,0.706],[5.04,0.778,0.881,0.733,0.822],
    [5.06,0.712,0.799,0.846,0.768],[5.08,0.827,0.757,0.703,0.789],[5.10,0.769,0.862,0.729,0.813],
    [5.12,0.704,0.786,0.841,0.749],[5.14,0.819,0.738,0.778,0.867],[5.16,0.761,0.834,0.698,0.802],
    [5.18,0.726,0.783,0.856,0.741],[5.20,0.838,0.729,0.794,0.692],[5.22,0.764,0.866,0.718,0.808],
    [5.24,0.697,0.784,0.831,0.752],[5.26,0.812,0.743,0.689,0.774],[5.28,0.756,0.847,0.714,0.797],
    [5.30,0.693,0.771,0.826,0.734],[5.32,0.804,0.722,0.763,0.852],[5.34,0.747,0.819,0.684,0.788],
    [5.36,0.713,0.768,0.841,0.726],[5.38,0.823,0.716,0.779,0.681],[5.40,0.751,0.853,0.703,0.794],
    [5.42,0.686,0.772,0.818,0.739],[5.44,0.798,0.731,0.677,0.762],[5.46,0.743,0.834,0.701,0.784],
    [5.48,0.681,0.759,0.813,0.722],[5.50,0.792,0.709,0.751,0.838],[5.52,0.736,0.808,0.673,0.776],
    [5.54,0.702,0.757,0.829,0.714],[5.56,0.811,0.706,0.768,0.668],[5.58,0.739,0.841,0.693,0.783],
    [5.60,0.676,0.763,0.807,0.727],[5.62,0.787,0.719,0.664,0.751],[5.64,0.732,0.822,0.689,0.773],
    [5.66,0.671,0.747,0.801,0.712],[5.68,0.781,0.698,0.741,0.826],[5.70,0.726,0.797,0.662,0.764],
    [5.72,0.693,0.748,0.817,0.704],[5.74,0.799,0.697,0.758,0.657],[5.76,0.729,0.831,0.683,0.774],
    [5.78,0.667,0.754,0.796,0.718],[5.80,0.778,0.709,0.654,0.742],[5.82,0.723,0.812,0.679,0.766],
    [5.84,0.662,0.738,0.791,0.703],[5.86,0.772,0.689,0.733,0.818],[5.88,0.718,0.788,0.653,0.756],
    [5.90,0.684,0.741,0.806,0.697],[5.92,0.791,0.688,0.749,0.648],[5.94,0.721,0.823,0.674,0.767],
    [5.96,0.659,0.746,0.787,0.711],[5.98,0.769,0.702,0.646,0.736],[6.00,0.716,0.803,0.672,0.759],
    [6.02,0.654,0.731,0.784,0.697],[6.04,0.763,0.683,0.727,0.812],[6.06,0.712,0.779,0.643,0.751],
    [6.08,0.677,0.736,0.798,0.689],[6.10,0.784,0.682,0.744,0.638],[6.12,0.716,0.817,0.667,0.761],
    [6.14,0.651,0.742,0.779,0.706],[6.16,0.763,0.697,0.637,0.729],[6.18,0.708,0.793,0.664,0.752],
    [6.20,0.646,0.724,0.776,0.689],[6.22,0.756,0.678,0.719,0.806],[6.24,0.703,0.771,0.632,0.747],
    [6.26,0.669,0.728,0.792,0.682],[6.28,0.777,0.674,0.737,0.626],[6.30,0.709,0.811,0.659,0.753],
    [6.32,0.643,0.734,0.771,0.698],[6.34,0.757,0.689,0.628,0.722],[6.36,0.701,0.786,0.656,0.744],
    [6.38,0.638,0.717,0.768,0.681],[6.40,0.748,0.671,0.713,0.801],[6.42,0.696,0.764,0.624,0.739],
    [6.44,0.662,0.721,0.787,0.676],[6.46,0.771,0.667,0.731,0.618],[6.48,0.703,0.806,0.652,0.746]]
fill_c = [[2.91,0.963,1.047,0.902],[2.93,1.018,0.931,0.987],[2.95,0.946,1.072,0.894],[2.97,1.003,0.918,1.039],
    [2.99,0.974,0.887,1.056],[3.01,0.921,1.028,0.958],[3.03,0.994,0.876,1.013],[3.05,0.938,1.049,0.903],
    [3.07,0.869,0.976,1.022],[3.09,1.006,0.914,0.951],[3.11,0.943,0.862,1.037],[3.13,0.897,0.989,0.928],
    [3.15,1.014,0.871,0.956],[3.17,0.931,1.043,0.889],[3.19,0.866,0.972,1.001],[3.21,0.982,0.907,0.849],
    [3.23,0.918,1.026,0.961],[3.25,0.873,0.944,0.998],[3.27,0.967,0.853,1.019],[3.29,0.904,0.981,0.932],
    [3.31,0.857,1.009,0.946],[3.33,0.977,0.898,0.842],[3.35,0.914,0.961,1.023],[3.37,0.866,0.937,0.994],
    [3.39,0.952,0.841,0.906],[3.41,0.892,0.983,0.938],[3.43,0.938,0.856,1.007],[3.45,0.873,0.969,0.918],
    [3.47,0.951,0.827,0.884],[3.49,0.897,0.992,0.861],[3.51,0.846,0.934,0.977],[3.53,0.923,0.874,0.819],
    [3.55,0.961,0.852,0.903],[3.57,0.881,0.989,0.837],[3.59,0.929,0.816,0.951],[3.61,0.864,0.947,0.893],
    [3.63,0.917,0.833,0.972],[3.65,0.852,0.938,0.891],[3.67,0.903,0.813,0.962],[3.69,0.941,0.867,0.828],
    [3.71,0.876,0.953,0.811],[3.73,0.922,0.841,0.897],[3.75,0.857,0.974,0.819],[3.77,0.906,0.834,0.942],
    [3.79,0.843,0.913,0.877],[3.81,0.894,0.806,0.956],[3.83,0.928,0.862,0.823],[3.85,0.861,0.947,0.798],
    [3.87,0.913,0.836,0.884],[3.89,0.846,0.958,0.807],[3.91,0.891,0.823,0.937],[3.93,0.832,0.904,0.866],
    [3.95,0.883,0.794,0.948],[3.97,0.914,0.851,0.812],[3.99,0.848,0.932,0.786],[4.01,0.898,0.821,0.867],
    [4.03,0.833,0.943,0.792],[4.05,0.876,0.808,0.914],[4.07,0.817,0.889,0.852],[4.09,0.868,0.781,0.931],
    [4.11,0.901,0.837,0.796],[4.13,0.834,0.916,0.771],[4.15,0.882,0.806,0.853],[4.17,0.818,0.927,0.778],
    [4.19,0.863,0.793,0.902],[4.21,0.803,0.874,0.837],[4.23,0.852,0.767,0.918],[4.25,0.886,0.821,0.782],
    [4.27,0.819,0.902,0.758],[4.29,0.867,0.791,0.838],[4.31,0.802,0.913,0.764],[4.33,0.848,0.778,0.887],
    [4.35,0.788,0.859,0.822],[4.37,0.837,0.753,0.903],[4.39,0.871,0.806,0.768],[4.41,0.804,0.887,0.744],
    [4.43,0.852,0.776,0.823],[4.45,0.787,0.898,0.751],[4.47,0.833,0.763,0.872],[4.49,0.773,0.846,0.808],
    [4.51,0.822,0.739,0.887],[4.53,0.856,0.791,0.753],[4.55,0.789,0.872,0.731],[4.57,0.837,0.762,0.808],
    [4.59,0.772,0.883,0.737],[4.61,0.818,0.748,0.857],[4.63,0.758,0.831,0.793],[4.65,0.807,0.726,0.872],
    [4.67,0.841,0.777,0.739],[4.69,0.774,0.857,0.718],[4.71,0.822,0.747,0.793],[4.73,0.757,0.868,0.722],
    [4.75,0.803,0.733,0.842],[4.77,0.743,0.816,0.779],[4.79,0.792,0.711,0.857],[4.81,0.826,0.763,0.724],
    [4.83,0.759,0.842,0.703],[4.85,0.807,0.732,0.778],[4.87,0.742,0.853,0.708],[4.89,0.788,0.718,0.827],
    [4.91,0.728,0.801,0.764],[4.93,0.777,0.697,0.842],[4.95,0.811,0.748,0.709],[4.97,0.744,0.828,0.689],
    [4.99,0.793,0.717,0.763]]
# above the core, x 4 to 6.2
fill_d = [[4.00,1.060,1.016],[4.04,1.057,1.145],[4.08,1.032,0.944],[4.12,1.118,0.964],[4.16,0.983,1.115],
    [4.20,1.024,1.112],[4.24,0.955,0.971],[4.28,0.952,1.084],[4.32,1.016,1.038],[4.36,0.925,0.969],[4.40,1.098,1.010],
    [4.44,0.941,0.919],[4.48,0.960,1.070],[4.52,0.914,0.936],[4.56,1.109,0.977],[4.60,1.084,1.018],[4.64,0.949,0.927],
    [4.68,0.924,0.902],[4.72,1.010,1.003],[4.76,1.007,1.095],[4.80,1.026,0.982],[4.84,0.979,1.023],[4.88,0.932,0.941],
    [4.92,1.084,0.974],[4.96,1.059,1.081],[5.00,0.990,0.968],[5.04,1.076,0.944],[5.08,0.876,0.942],[5.12,1.050,0.896],
    [5.16,1.070,1.004],[5.20,0.958,0.966],[5.24,0.912,1.044],[5.28,1.042,0.888],[5.32,0.864,1.062],[5.36,1.016,0.972],
    [5.40,0.992,1.001],[5.44,0.968,1.056],[5.48,0.922,0.930],[5.52,0.942,0.950],[5.56,0.984,0.874],[5.60,0.894,1.026],
    [5.64,0.936,1.002],[5.68,0.956,0.978],[5.72,0.932,1.020],[5.76,0.886,0.908],[5.80,0.906,0.994],[5.84,1.014,0.970],
    [5.88,0.990,1.012],[5.92,0.900,0.856],[5.96,0.964,0.942],[6.00,0.874,0.984],[6.04,0.850,0.872],[6.08,0.826,0.848],
    [6.12,1.022,0.824],[6.16,1.020,0.844],[6.20,0.908,0.930]]
# x 6.5 to 8
fill_e = [[6.50,0.697,0.843],[6.53,0.583,0.919],[6.56,0.659,0.768],[6.59,0.881,0.621],[6.62,0.805,0.735],
    [6.65,0.729,0.924],[6.68,0.586,0.653],[6.71,0.849,0.691],[6.74,0.887,0.773],[6.77,0.615,0.811],[6.80,0.918,0.584],
    [6.83,0.697,0.729],[6.86,0.843,0.659],[6.89,0.805,0.881],[6.92,0.621,0.767],[6.95,0.773,0.691],[6.98,0.919,0.849],
    [7.01,0.583,0.735],[7.04,0.653,0.805],[7.07,0.887,0.615],[7.10,0.697,0.924],[7.13,0.811,0.586],[7.16,0.767,0.843],
    [7.19,0.659,0.729],[7.22,0.881,0.621],[7.25,0.849,0.697],[7.28,0.583,0.805],[7.31,0.918,0.773],[7.34,0.735,0.653],
    [7.37,0.887,0.691],[7.40,0.615,0.849],[7.43,0.811,0.589],[7.46,0.924,0.729],[7.49,0.767,0.659],[7.52,0.881,0.805],
    [7.55,0.697,0.621],[7.58,0.843,0.918],[7.61,0.583,0.773],[7.64,0.735,0.887],[7.67,0.653,0.811],[7.70,0.615,0.697],
    [7.73,0.919,0.849],[7.76,0.729,0.586],[7.79,0.805,0.767],[7.82,0.884,0.659],[7.85,0.691,0.843],[7.88,0.621,0.924],
    [7.91,0.811,0.735],[7.94,0.583,0.887],[7.97,0.653,0.773]]
# under the core, x 3 to 6.5
fill_f = [[3.00,0.753,0.792],[3.05,0.749,0.801],[3.10,0.849,0.758],[3.15,0.806,0.793],[3.20,0.763,0.789],
    [3.25,0.824,0.837],[3.30,0.807,0.833],[3.35,0.751,0.738],[3.40,0.747,0.812],[3.45,0.756,0.782],[3.50,0.726,0.778],
    [3.55,0.748,0.735],[3.60,0.731,0.796],[3.65,0.727,0.714],[3.70,0.775,0.801],[3.75,0.745,0.680],[3.80,0.702,0.780],
    [3.85,0.776,0.724],[3.90,0.681,0.785],[3.95,0.755,0.677],[4.00,0.738,0.777],[4.05,0.696,0.774],[4.10,0.771,0.693],
    [4.15,0.742,0.716],[4.20,0.661,0.648],[4.25,0.710,0.749],[4.30,0.668,0.642],[4.35,0.756,0.730],[4.40,0.688,0.753],
    [4.45,0.685,0.693],[4.50,0.695,0.747],[4.55,0.653,0.666],[4.60,0.624,0.715],[4.65,0.725,0.634],[4.70,0.696,0.670],
    [4.75,0.615,0.693],[4.80,0.638,0.716],[4.85,0.687,0.635],[4.90,0.606,0.710],[4.95,0.720,0.711],[5.00,0.704,0.678],
    [5.05,0.624,0.702],[5.10,0.596,0.635],[5.15,0.646,0.698],[5.20,0.618,0.657],[5.25,0.629,0.642],[5.30,0.614,0.601],
    [5.35,0.599,0.677],[5.40,0.584,0.662],[5.45,0.673,0.699],[5.50,0.684,0.606],[5.55,0.591,0.630],[5.60,0.680,0.576],
    [5.65,0.678,0.652],[5.70,0.637,0.585],[5.75,0.609,0.596],[5.80,0.672,0.594],[5.85,0.605,0.566],[5.90,0.642,0.651],
    [5.95,0.614,0.653],[6.00,0.560,0.677],[6.05,0.598,0.663],[6.10,0.610,0.617],[6.15,0.635,0.557],[6.20,0.673,0.621],
    [6.25,0.620,0.555],[6.30,0.619,0.658],[6.35,0.579,0.586],[6.40,0.591,0.565],[6.45,0.642,0.577]]

x_ticks = [2, 4, 6, 8, 10, 12, 14]
y_ticks = [0.4, 0.6, 0.8, 1.0, 1.2, 1.4, 1.6, 1.8]

# flatten the black points
bx, by = [], []
for p in top_pts + upper_pts + tail_pts:
    bx.append(p[0])
    by.append(p[1])
for band in [band_a, band_b, band_c, band_d, band_e, band_f, band_g, band_h, band_i, band_j, band_k, band_l,
             fill_a, fill_b, fill_c, fill_d, fill_e, fill_f]:
    for row in band:
        for yv in row[1:]:
            bx.append(row[0])
            by.append(yv)

fig = plt.figure(figsize=(8, 6), dpi=150)
ax = fig.add_axes([0.1025, 0.17, 0.845, 0.6939])

# R draws these dots without smoothing
ax.scatter(bx, by, s=3.3, c='black', linewidths=0, antialiased=False)
ax.scatter(out_x, out_y, s=3.3, c='#FF0000', linewidths=0, antialiased=False)
ax.plot(trend_x, trend_y, color='#0000FF', lw=0.75)

ax.set_xlim(1.734, 15.236)
ax.set_ylim(0.390, 1.936)
ax.set_xticks(x_ticks)
ax.set_xticklabels([str(t) for t in x_ticks])
ax.set_yticks(y_ticks)
ax.set_yticklabels(['%.1f' % t for t in y_ticks])
for lab in ax.get_yticklabels():
    lab.set_rotation(90)
    lab.set_va('center')

for sp in ax.spines.values():
    sp.set_linewidth(0.75)
    sp.set_color('black')
ax.tick_params(axis='both', direction='out', length=7.5, width=0.75, labelsize=12, colors='black')
ax.tick_params(axis='x', pad=9.6)
ax.tick_params(axis='y', pad=7)

fig.text(0.525, 0.0344, 'Average log-expression', ha='center', va='baseline', fontsize=12)
fig.text(33 / 1200, 0.5169, 'sqrt(sigma)', ha='center', va='baseline', rotation=90,
         rotation_mode='anchor', fontsize=12)

# legend box as in R: drawn by hand, entries from ax.legend
ax.add_patch(Rectangle((0.865, 0.8567), 0.135, 0.1433, transform=ax.transAxes, facecolor='white',
                       edgecolor='black', lw=0.75, clip_on=False, zorder=5))
handles = [Line2D([], [], ls='none', marker='o', markersize=4.8, color='black', mec='none'),
           Line2D([], [], ls='none', marker='o', markersize=4.8, color='#FF0000', mec='none')]
leg = ax.legend(handles, ['Normal', 'Outlier'], loc='upper left', bbox_to_anchor=(0.865, 0.9968), borderaxespad=0,
                frameon=False, fontsize=12, borderpad=0.75, handlelength=0.26,
                handletextpad=0.79, labelspacing=0.22, handleheight=0.7)
leg.set_zorder(6)

fig.savefig('out.png', dpi=150)
